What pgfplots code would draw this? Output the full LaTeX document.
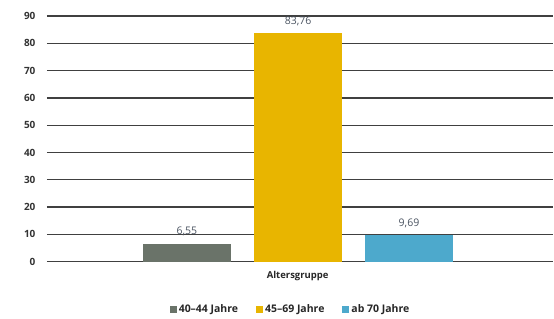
\documentclass[border=0pt]{standalone}
\usepackage{pgfplots}
\pgfplotsset{compat=1.18}
\usepackage{fontspec}
\setmainfont{Open Sans}
\definecolor{cgray}{HTML}{6A7369}
\definecolor{cyellow}{HTML}{E8B500}
\definecolor{cblue}{HTML}{4DA9CC}
\definecolor{gridc}{HTML}{404040}
\definecolor{lblc}{HTML}{4A5360}
\begin{document}
\begin{tikzpicture}
\begin{axis}[
  scale only axis,
  width=507pt, height=246pt,
  xmin=47, xmax=554,
  ymin=0, ymax=90,
  ytick={0,10,...,90},
  ymajorgrids,
  grid style={gridc, line width=1.3pt},
  axis line style={draw=none},
  major tick length=0pt,
  xtick={298}, xticklabels={Altersgruppe},
  xticklabel style={font=\fontsize{9.5}{11}\selectfont\bfseries, text=black!85, yshift=-6pt},
  yticklabel style={font=\fontsize{10}{11}\selectfont\bfseries, text=black!80, xshift=-8pt},
  yticklabel={\pgfmathprintnumber[fixed,precision=0]{\tick}},
  /pgf/number format/assume math mode=true,
  ybar, bar shift=0pt, bar width=88pt,
  nodes near coords={\pgfmathprintnumber[use comma,fixed,fixed zerofill,precision=2]{\pgfplotspointmeta}},
  every node near coord/.append style={font=\fontsize{10.5}{12}\selectfont, text=lblc, yshift=4pt},
  legend style={at={(0.481,-0.195)}, anchor=center, draw=none, legend columns=3,
    font=\fontsize{10.5}{12}\selectfont\bfseries, text=black!85,
    /tikz/every even column/.append style={column sep=16pt},
    /tikz/every odd column/.append style={column sep=0pt}},
  legend image code/.code={\fill[#1] (0pt,-3pt) rectangle (7pt,4pt);},
  clip=false,
]
\coordinate (O) at (rel axis cs:0,0);
\addplot[fill=cgray, draw=none] coordinates {(187,6.55)};
\addplot[fill=cyellow, draw=none] coordinates {(298.5,83.76)};
\addplot[fill=cblue, draw=none] coordinates {(409.5,9.69)};
\legend{40–44 Jahre, 45–69 Jahre, ab 70 Jahre}
\end{axis}
\path (O) ++(-47pt,-52pt) rectangle ++(554pt,314pt);
\end{tikzpicture}
\end{document}
